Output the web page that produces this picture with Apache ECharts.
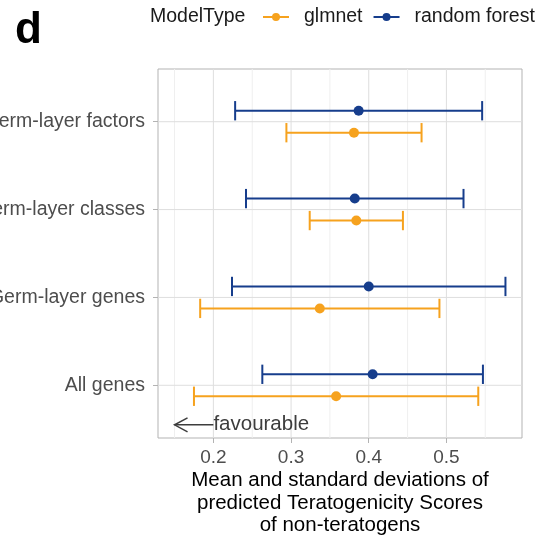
<!DOCTYPE html>
<html>
<head>
<meta charset="utf-8">
<script src="https://cdn.jsdelivr.net/npm/echarts@6/dist/echarts.min.js"></script>
<style>html,body{margin:0;padding:0;background:#fff;}#c{width:542px;height:540px;}</style>
</head>
<body>
<div id="c"></div>
<script>
// ---- data ----
const categories = ['Germ-layer factors', 'Germ-layer classes', 'Germ-layer genes', 'All genes'];
const glmnetMean = [0.381, 0.384, 0.337, 0.358];
const glmnetSD   = [0.087, 0.060, 0.154, 0.183];
const rfMean     = [0.387, 0.382, 0.400, 0.405];
const rfSD       = [0.159, 0.140, 0.176, 0.142];
const xTicks     = [0.2, 0.3, 0.4, 0.5];
const xMinorTicks = [0.15, 0.25, 0.35, 0.45, 0.55];
const annotation = { from: 0.2, to: 0.15, y: 0.55, text: 'favourable' };

// ---- styles ----
const FONT = 'Liberation Sans, Arial, sans-serif';
const ORANGE = '#f6a21e';
const BLUE = '#163d8c';
const DODGE = 0.125;
const CAP = 0.11;

const yPos = i => categories.length - i;   // top category highest
const yTicks = categories.map((c, i) => yPos(i));

function errData(means, sds, off) {
  return means.map((m, i) => [m - sds[i], m + sds[i], yPos(i) + off]);
}
function ptData(means, off) {
  return means.map((m, i) => [m, yPos(i) + off]);
}
function errRender(color) {
  return function (params, api) {
    const lo = api.value(0), hi = api.value(1), y = api.value(2);
    const a = api.coord([lo, y]), b = api.coord([hi, y]);
    const t = api.coord([lo, y + CAP])[1], u = api.coord([lo, y - CAP])[1];
    const st = { stroke: color, lineWidth: 2 };
    return { type: 'group', children: [
      { type: 'line', shape: { x1: a[0], y1: a[1], x2: b[0], y2: b[1] }, style: st },
      { type: 'line', shape: { x1: a[0], y1: t, x2: a[0], y2: u }, style: st },
      { type: 'line', shape: { x1: b[0], y1: t, x2: b[0], y2: u }, style: st }
    ] };
  };
}
function vLine(color) {
  return function (params, api) {
    const x = api.coord([api.value(0), api.value(1)])[0];
    const cs = params.coordSys;
    return { type: 'line', shape: { x1: x, y1: cs.y, x2: x, y2: cs.y + cs.height },
             style: { stroke: color, lineWidth: 1 } };
  };
}
function hLine(color) {
  return function (params, api) {
    const y = api.coord([api.value(0), api.value(1)])[1];
    const cs = params.coordSys;
    return { type: 'line', shape: { x1: cs.x, y1: y, x2: cs.x + cs.width, y2: y },
             style: { stroke: color, lineWidth: 1 } };
  };
}

const legendIcon = 'path://M0,3h26v2H0z M13,0a4,4 0 1,1 0,8a4,4 0 1,1 0,-8z';

const chart = echarts.init(document.getElementById('c'), null, { renderer: 'canvas' });
const gridLeft = 158, gridRight = 20;
chart.setOption({
  animation: false,
  backgroundColor: '#ffffff',
  grid: { left: gridLeft, right: gridRight, top: 69, bottom: 102, show: true,
          containLabel: false, outerBoundsMode: 'none',
          borderColor: '#b3b3b3', borderWidth: 1, backgroundColor: 'transparent' },
  xAxis: {
    type: 'value', min: 0.1287, max: 0.5973,
    axisLine: { show: false },
    axisTick: { show: true, customValues: xTicks, length: 5, lineStyle: { color: '#b3b3b3', width: 1 } },
    axisLabel: { customValues: xTicks, formatter: v => Number(v).toFixed(1),
                 fontSize: 19, color: '#4d4d4d', margin: 10, fontFamily: FONT },
    splitLine: { show: false }
  },
  yAxis: {
    type: 'value', min: 0.4, max: 4.6,
    axisLine: { show: false },
    axisTick: { show: true, customValues: yTicks, length: 5, lineStyle: { color: '#b3b3b3', width: 1 } },
    axisLabel: { customValues: yTicks,
                 formatter: v => categories[categories.length - Math.round(v)],
                 fontSize: 19.5, color: '#4d4d4d', margin: 13, fontFamily: FONT },
    splitLine: { show: false }
  },
  legend: {
    orient: 'horizontal', left: 263, top: 7, width: 400, padding: 0,
    itemWidth: 26, itemHeight: 8, itemGap: 11,
    data: [{ name: 'glmnet', icon: legendIcon }, { name: 'random forest', icon: legendIcon }],
    textStyle: { fontSize: 19.5, color: '#1a1a1a', fontFamily: FONT, padding: [0, 0, 0, 10] }
  },
  graphic: [
    { type: 'text', x: 15, y: 31, style: { text: 'd', font: 'bold 44px ' + FONT, fill: '#000',
      textVerticalAlign: 'middle' } },
    { type: 'text', x: 150, y: 17, style: { text: 'ModelType', font: '19.5px ' + FONT, fill: '#1a1a1a',
      textVerticalAlign: 'middle' } },
    { type: 'text', x: gridLeft + (542 - gridLeft - gridRight) / 2, y: 503,
      style: { text: 'Mean and standard deviations of\npredicted Teratogenicity Scores\nof non-teratogens',
               font: '20.5px ' + FONT, fill: '#000', textAlign: 'center', textVerticalAlign: 'middle',
               lineHeight: 22.5 } }
  ],
  series: [
    { type: 'custom', silent: true, z: 0, renderItem: vLine('#efefef'),
      data: xMinorTicks.map(v => [v, 1]), encode: { x: 0, y: 1 } },
    { type: 'custom', silent: true, z: 0, renderItem: vLine('#dedede'),
      data: xTicks.map(v => [v, 1]), encode: { x: 0, y: 1 } },
    { type: 'custom', silent: true, z: 0, renderItem: hLine('#dedede'),
      data: yTicks.map(y => [0.3, y]), encode: { x: 0, y: 1 } },
    { name: 'glmnet', type: 'custom', z: 2, renderItem: errRender(ORANGE), itemStyle: { color: ORANGE },
      data: errData(glmnetMean, glmnetSD, -DODGE), encode: { x: [0, 1], y: 2 } },
    { name: 'random forest', type: 'custom', z: 2, renderItem: errRender(BLUE), itemStyle: { color: BLUE },
      data: errData(rfMean, rfSD, DODGE), encode: { x: [0, 1], y: 2 } },
    { name: 'glmnet', type: 'scatter', z: 3, symbolSize: 10, itemStyle: { color: ORANGE, opacity: 1 },
      data: ptData(glmnetMean, -DODGE) },
    { name: 'random forest', type: 'scatter', z: 3, symbolSize: 10, itemStyle: { color: BLUE, opacity: 1 },
      data: ptData(rfMean, DODGE) },
    { type: 'custom', silent: true, z: 4,
      data: [[annotation.from, annotation.to, annotation.y]], encode: { x: [0, 1], y: 2 },
      renderItem: function (params, api) {
        const a = api.coord([api.value(0), api.value(2)]);
        const b = api.coord([api.value(1), api.value(2)]);
        const col = '#3d3d3d';
        return { type: 'group', children: [
          { type: 'line', shape: { x1: a[0], y1: a[1], x2: b[0], y2: b[1] }, style: { stroke: col, lineWidth: 1.5 } },
          { type: 'polyline', shape: { points: [[b[0] + 13, b[1] - 7], [b[0], b[1]], [b[0] + 13, b[1] + 7]] },
            style: { stroke: col, lineWidth: 1.5, fill: null } },
          { type: 'text', x: a[0], y: a[1], style: { text: annotation.text, font: '20.5px ' + FONT,
            fill: col, textAlign: 'left', textVerticalAlign: 'middle' } }
        ] };
      } }
  ]
});
</script>
</body>
</html>
